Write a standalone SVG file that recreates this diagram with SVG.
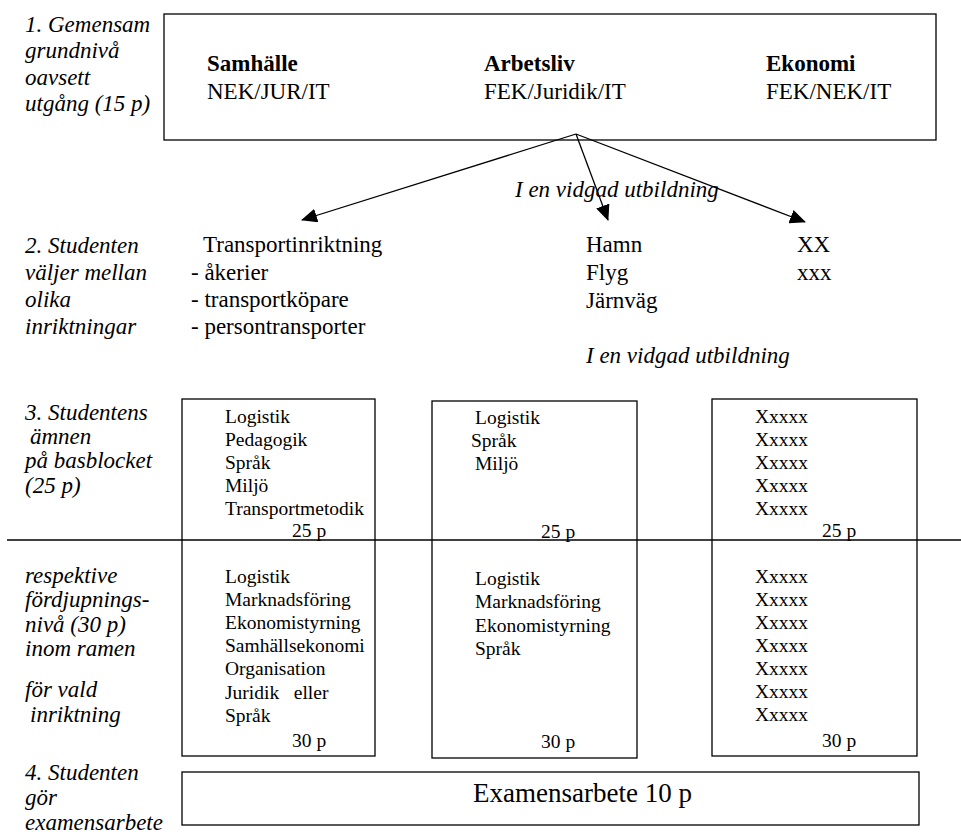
<svg xmlns="http://www.w3.org/2000/svg" width="961" height="840" viewBox="0 0 961 840">
<defs>
<style>
text{font-family:"Liberation Serif","Times New Roman",serif;fill:#000}
.lbl{font-size:23px;font-style:italic}
.t{font-size:23px}
.b{font-size:23px;font-weight:bold}
.s{font-size:19.5px}
.box{fill:none;stroke:#000;stroke-width:1.3}
.con{stroke:#000;stroke-width:1.3;fill:none}
</style>
<marker id="ah" markerWidth="16" markerHeight="14" refX="15" refY="7" orient="auto" markerUnits="userSpaceOnUse">
<path d="M0,0 L16,7 L0,14 Z" fill="#000"/>
</marker>
</defs>
<rect width="961" height="840" fill="#fff"/>

<g id="labels">
<text class="lbl" x="25" y="32">1. Gemensam</text>
<text class="lbl" x="25" y="58">grundnivå</text>
<text class="lbl" x="25" y="85">oavsett</text>
<text class="lbl" x="25" y="111">utgång (15 p)</text>
<text class="lbl" x="25" y="253">2. Studenten</text>
<text class="lbl" x="25" y="280">väljer mellan</text>
<text class="lbl" x="25" y="307">olika</text>
<text class="lbl" x="25" y="334">inriktningar</text>
<text class="lbl" x="25" y="420">3. Studentens</text>
<text class="lbl" x="30" y="444">ämnen</text>
<text class="lbl" x="25" y="468">på basblocket</text>
<text class="lbl" x="25" y="493">(25 p)</text>
<text class="lbl" x="25" y="583">respektive</text>
<text class="lbl" x="25" y="607">fördjupnings-</text>
<text class="lbl" x="25" y="632">nivå (30 p)</text>
<text class="lbl" x="25" y="656">inom ramen</text>
<text class="lbl" x="25" y="697">för vald</text>
<text class="lbl" x="30" y="722">inriktning</text>
<text class="lbl" x="25" y="780">4. Studenten</text>
<text class="lbl" x="25" y="805">gör</text>
<text class="lbl" x="25" y="830">examensarbete</text>
</g>

<g id="top-box">
<rect class="box" x="164" y="14" width="772" height="126"/>
<text class="b" x="207" y="71">Samhälle</text>
<text class="t" x="207" y="99">NEK/JUR/IT</text>
<text class="b" x="484" y="71">Arbetsliv</text>
<text class="t" x="484" y="99">FEK/Juridik/IT</text>
<text class="b" x="766" y="71">Ekonomi</text>
<text class="t" x="766" y="99">FEK/NEK/IT</text>
</g>

<g id="connectors">
<line class="con" x1="576" y1="134" x2="302" y2="220" marker-end="url(#ah)"/>
<line class="con" x1="576" y1="134" x2="608" y2="220" marker-end="url(#ah)"/>
<line class="con" x1="576" y1="134" x2="805" y2="222" marker-end="url(#ah)"/>
<line class="con" x1="7" y1="540" x2="961" y2="540"/>
</g>

<g id="vidgad-label-1">
<text class="lbl" x="515" y="197">I en vidgad utbildning</text>
</g>

<g id="transport">
<text class="t" x="203" y="252">Transportinriktning</text>
<text class="t" x="191" y="280">- åkerier</text>
<text class="t" x="191" y="307">- transportköpare</text>
<text class="t" x="191" y="334">- persontransporter</text>
</g>

<g id="vidgad">
<text class="t" x="586" y="252">Hamn</text>
<text class="t" x="586" y="280">Flyg</text>
<text class="t" x="586" y="308">Järnväg</text>
<text class="lbl" x="586" y="363">I en vidgad utbildning</text>
</g>

<g id="xx">
<text class="t" x="797" y="252">XX</text>
<text class="t" x="797" y="280">xxx</text>
</g>

<g id="box1">
<rect class="box" x="182" y="399" width="193" height="357"/>
<text class="s" x="225" y="423">Logistik</text>
<text class="s" x="225" y="446">Pedagogik</text>
<text class="s" x="225" y="469">Språk</text>
<text class="s" x="225" y="492">Miljö</text>
<text class="s" x="225" y="515">Transportmetodik</text>
<text class="s" x="292" y="537">25 p</text>
<text class="s" x="225" y="583">Logistik</text>
<text class="s" x="225" y="606">Marknadsföring</text>
<text class="s" x="225" y="629">Ekonomistyrning</text>
<text class="s" x="225" y="652">Samhällsekonomi</text>
<text class="s" x="225" y="675">Organisation</text>
<text class="s" x="225" y="699" xml:space="preserve">Juridik   eller</text>
<text class="s" x="225" y="722">Språk</text>
<text class="s" x="292" y="747">30 p</text>
</g>

<g id="box2">
<rect class="box" x="432" y="401" width="205" height="357"/>
<text class="s" x="475" y="424">Logistik</text>
<text class="s" x="471" y="447">Språk</text>
<text class="s" x="475" y="470">Miljö</text>
<text class="s" x="541" y="538">25 p</text>
<text class="s" x="475" y="585">Logistik</text>
<text class="s" x="475" y="608">Marknadsföring</text>
<text class="s" x="475" y="632">Ekonomistyrning</text>
<text class="s" x="475" y="655">Språk</text>
<text class="s" x="541" y="748">30 p</text>
</g>

<g id="box3">
<rect class="box" x="712" y="399" width="205" height="357"/>
<text class="s" x="755" y="423">Xxxxx</text>
<text class="s" x="755" y="446">Xxxxx</text>
<text class="s" x="755" y="469">Xxxxx</text>
<text class="s" x="755" y="492">Xxxxx</text>
<text class="s" x="755" y="515">Xxxxx</text>
<text class="s" x="822" y="537">25 p</text>
<text class="s" x="755" y="583">Xxxxx</text>
<text class="s" x="755" y="606">Xxxxx</text>
<text class="s" x="755" y="629">Xxxxx</text>
<text class="s" x="755" y="652">Xxxxx</text>
<text class="s" x="755" y="675">Xxxxx</text>
<text class="s" x="755" y="698">Xxxxx</text>
<text class="s" x="755" y="721">Xxxxx</text>
<text class="s" x="822" y="747">30 p</text>
</g>

<g id="exam">
<rect class="box" x="182" y="772" width="737" height="53"/>
<text x="473" y="802" style="font-size:27px">Examensarbete 10 p</text>
</g>
</svg>
